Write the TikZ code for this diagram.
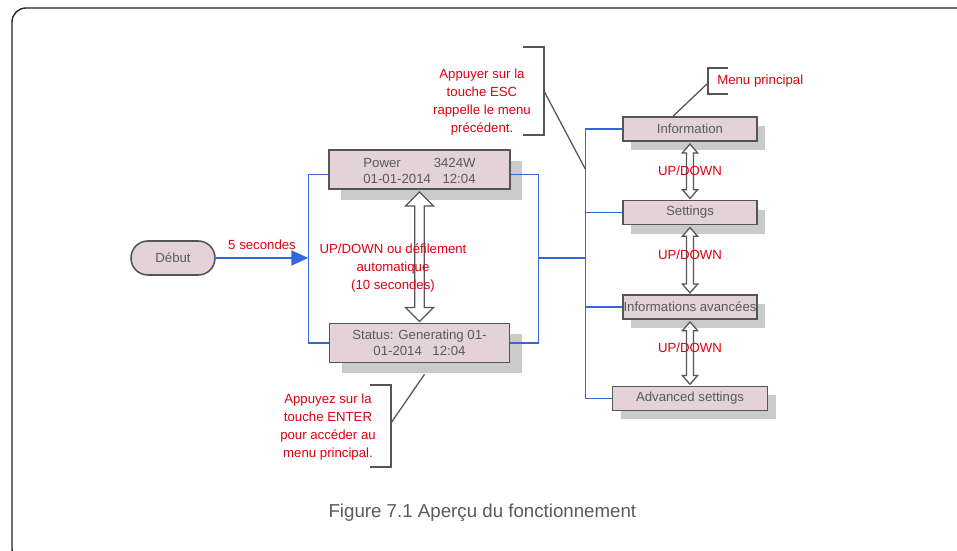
\documentclass[tikz,border=0pt]{standalone}
\usepackage{fontspec}
\setmainfont{Liberation Sans}
\usetikzlibrary{positioning, arrows.meta, calc, shadows}
\definecolor{boxpink}{HTML}{E3D3D9}
\definecolor{boxline}{HTML}{555555}
\definecolor{textgray}{HTML}{5A5A5A}
\definecolor{notered}{HTML}{E0000F}
\definecolor{busblue}{HTML}{3467D8}
\definecolor{shadowgray}{HTML}{C9CACA}

% hollow up/down arrow between two stacked nodes: from, to, half head, half shaft, head length
\newcommand{\updown}[5]{%
  \coordinate (ua) at ($(#1.south)+(0,-0.06)$);
  \coordinate (ub) at ($(#2.north)+(0,0.03)$);
  \draw[hollow] (ua) -- ++(#3,-#5) -- ++(-#3+#4,0) -- ($(ub)+(#4,#5)$) -- ++(#3-#4,0)
    -- (ub) -- ++(-#3,#5) -- ++(#3-#4,0) -- ($(ua)+(-#4,-#5)$) -- ++(-#3+#4,0) -- cycle;}

\begin{document}
\begin{tikzpicture}[
    screen/.style={draw=boxline, line width=1pt, fill=boxpink, text=textgray, align=center, inner sep=0pt,
      font=\fontsize{9.4}{11.3}\selectfont},
    bigscreen/.style={screen, minimum width=4.525cm, minimum height=0.975cm,
      drop shadow={shadow xshift=0.3cm, shadow yshift=-0.27cm, draw=none, fill=shadowgray, opacity=1}},
    menu/.style={screen, minimum width=3.35cm, minimum height=0.6cm,
      drop shadow={shadow xshift=0.2cm, shadow yshift=-0.23cm, draw=none, fill=shadowgray, opacity=1}},
    note/.style={text=notered, align=center, inner sep=0pt, font=\fontsize{9.4}{12.8}\selectfont},
    bus/.style={draw=busblue, line width=1pt},
    callout/.style={draw=boxline, line width=0.9pt},
    hollow/.style={draw=boxline, line width=0.9pt, fill=white, line join=miter},
    startarr/.style={busblue, line width=1.7pt, -{Triangle[length=12pt, width=10.5pt]}},
    every node/.style={font=\fontsize{9.4}{12.8}\selectfont}
]
\useasboundingbox (0,0) rectangle (23.925,13.775);

% outer frame, cut at the page edge
\begin{scope}
\clip (0,0) rectangle (23.925,13.775);
\draw[line width=1pt, color=black!85, rounded corners=0.35cm] (0.3,13.575) rectangle (24.3,-0.3);
\end{scope}

% Start
\node[draw=boxline, line width=1.1pt, fill=boxpink, text=textgray, rounded corners=0.42cm,
  minimum width=2.1cm, minimum height=0.85cm] (debut) at (4.325,7.325) {Début};

% Screens
\node[bigscreen] (power) at (10.4875,9.5375)
  {\raisebox{0pt}[\dimexpr\height+4pt\relax][\depth]{\begin{tabular}{@{}l@{\hspace{2pt}}r@{}}Power & 3424W\\01-01-2014 & 12:04\end{tabular}}};
\node[bigscreen, minimum width=4.5cm, below=3.325cm of power] (status)
  {Status: Generating 01-\\01-2014\hspace{0.8em}12:04};

% Main menu
\node[menu] (info) at (17.25,10.55) {Information};
\node[menu, below=1.45cm of info] (settings) {Settings};
\node[menu, below=1.725cm of settings] (infoav) {Informations avancées};
\node[menu, minimum width=3.875cm, below=1.65cm of infoav] (advanced) {Advanced settings};

% Wiring
\coordinate (lbus) at ($(power.west)+(-0.5,0)$);
\coordinate (rbus) at ($(power.east)+(0.7,0)$);
\coordinate (mbus) at ($(info.west)+(-0.925,0)$);
\draw[bus] ([yshift=-0.12cm]power.west) -| (status.west -| lbus) -- (status.west);
\draw[bus] ([yshift=-0.12cm]power.east) -| (status.east -| rbus) -- (status.east);
\draw[bus] (debut -| rbus) -- (debut -| mbus);
\draw[bus] (info.west) -- (mbus) -- (mbus |- advanced.west) -- (advanced.west);
\draw[bus] (settings.west) -- (settings.west -| mbus);
\draw[bus] (infoav.west) -- (infoav.west -| mbus);
\draw[startarr] (debut.east) -- node[note, above=5pt] {5 secondes} (debut.east -| lbus);

% Up/down arrows
\updown{power}{status}{0.35}{0.12}{0.35}
\updown{info}{settings}{0.19}{0.09}{0.22}
\updown{settings}{infoav}{0.19}{0.09}{0.22}
\updown{infoav}{advanced}{0.19}{0.09}{0.22}

% Labels
\node[note] (scroll) at (9.825,7.075) {UP/DOWN ou défilement\\automatique\\(10 secondes)};
\node[note] (ud1) at ($(info.south)!0.5!(settings.north)$) {UP/DOWN};
\node[note] (ud2) at ($(settings.south)!0.43!(infoav.north)$) {UP/DOWN};
\node[note] (ud3) at ($(infoav.south)!0.43!(advanced.north)$) {UP/DOWN};

% Callouts
\node[note] (escnote) at (12.05,11.2125)
  {Appuyer sur la\\touche ESC\\rappelle le menu\\précédent.};
\draw[callout] ($(escnote.center)+(1.025,1.3875)$) -| ($(escnote.center)+(1.55,-0.8125)$) -- ++(-0.525,0);
\draw[callout] ($(escnote.center)+(1.55,0.2875)$) -- ($(info.west -| mbus)!0.48!(settings.west -| mbus)$);

\node[note, anchor=west] (mpnote) at (17.925,11.75) {Menu principal};
\draw[callout] ($(mpnote.west)+(0.275,0.325)$) -| ($(mpnote.west)+(-0.225,-0.325)$) -- ++(0.5,0);
\draw[callout] ($(mpnote.west)+(-0.225,-0.05)$) -- ([xshift=-0.425cm]info.north);

\node[note] (enternote) at (8.2,3.1)
  {Appuyez sur la\\touche ENTER\\pour accéder au\\menu principal.};
\draw[callout] ($(enternote.center)+(1.05,1.05)$) -| ($(enternote.center)+(1.575,-1.0)$) -- ++(-0.525,0);
\draw[callout] ($(enternote.center)+(1.575,0.1)$) -- ([xshift=0.125cm, yshift=-0.28cm]status.south);

% Caption
\node[text=textgray, font=\fontsize{13.3}{15}\selectfont] (caption) at (12.06,0.95)
  {Figure 7.1 Aperçu du fonctionnement};

\end{tikzpicture}
\end{document}
